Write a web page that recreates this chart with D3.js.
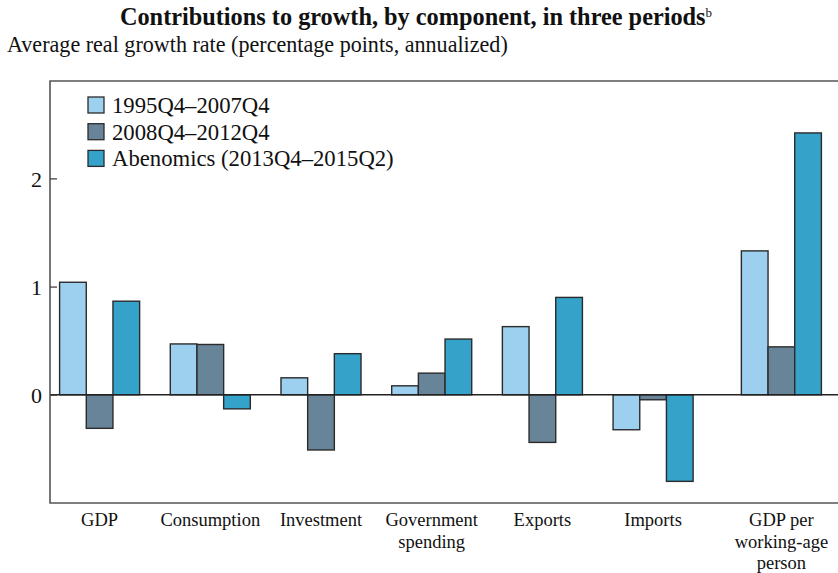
<!DOCTYPE html>
<html>
<head>
<meta charset="utf-8">
<script src="https://cdn.jsdelivr.net/npm/d3@7"></script>
<style>
  body { margin: 0; background: #fff; }
  text { font-family: "Liberation Serif", "DejaVu Serif", serif; fill: #111; }
</style>
</head>
<body>
<div id="chart"></div>
<script>
const categories = ["GDP", "Consumption", "Investment", "Government spending", "Exports", "Imports", "GDP per working-age person"];
const labelLines = [["GDP"], ["Consumption"], ["Investment"], ["Government", "spending"], ["Exports"], ["Imports"], ["GDP per", "working-age", "person"]];
const seriesNames = ["1995Q4\u20132007Q4", "2008Q4\u20132012Q4", "Abenomics (2013Q4\u20132015Q2)"];
const period1 = [1.04, 0.47, 0.157, 0.083, 0.63, -0.323, 1.33];
const period2 = [-0.31, 0.465, -0.51, 0.20, -0.44, -0.046, 0.443];
const period3 = [0.865, -0.13, 0.38, 0.515, 0.90, -0.80, 2.42];
const yTicks = [0, 1, 2];

const colors = ["#9dcfee", "#688499", "#35a2c9"];
const W = 838, H = 573;
const plot = { left: 50, top: 81, right: 838, bottom: 503 };
const lastGap = 17.6;

const svg = d3.select("#chart").append("svg")
    .attr("width", W)
    .attr("height", H);

const y = d3.scaleLinear()
    .domain([-1, 2.9])
    .range([plot.bottom, plot.top]);

const x0 = d3.scaleBand()
    .domain(categories)
    .range([59.6, 803.8])
    .paddingInner(0.277)
    .paddingOuter(0);

const x1 = d3.scaleBand()
    .domain(d3.range(seriesNames.length))
    .range([0, x0.bandwidth()]);

// the last group sits a little further out
const groupX = c => x0(c) + (c === categories[categories.length - 1] ? lastGap : 0);

// title
const title = svg.append("text")
    .attr("x", 416)
    .attr("y", 25)
    .attr("text-anchor", "middle")
    .style("font-size", "24.3px")
    .style("font-weight", "bold");
title.append("tspan").text("Contributions to growth, by component, in three periods");
title.append("tspan").text("b").attr("dy", -8).style("font-size", "13px").style("font-weight", "normal");

svg.append("text")
    .attr("x", 7)
    .attr("y", 52)
    .style("font-size", "22.1px")
    .text("Average real growth rate (percentage points, annualized)");

// bars
const data = categories.map((c, i) => ({ cat: c, vals: [period1[i], period2[i], period3[i]] }));

const groups = svg.append("g").selectAll("g")
    .data(data)
    .join("g")
    .attr("transform", d => `translate(${groupX(d.cat)},0)`);

groups.selectAll("rect")
    .data(d => d.vals.map((v, k) => ({ v, k })))
    .join("rect")
    .attr("x", d => x1(d.k))
    .attr("width", x1.bandwidth())
    .attr("y", d => y(Math.max(0, d.v)))
    .attr("height", d => Math.abs(y(d.v) - y(0)))
    .attr("fill", d => colors[d.k])
    .attr("stroke", "#2b2b2b")
    .attr("stroke-width", 1.4);

// zero line
svg.append("line")
    .attr("x1", plot.left).attr("x2", plot.right)
    .attr("y1", y(0)).attr("y2", y(0))
    .attr("stroke", "#222")
    .attr("stroke-width", 1.5);

// frame
svg.append("path")
    .attr("d", `M${plot.right},${plot.top}H${plot.left}V${plot.bottom}H${plot.right}`)
    .attr("fill", "none")
    .attr("stroke", "#555")
    .attr("stroke-width", 1.6);

// y axis
const yAxis = svg.append("g")
    .attr("transform", `translate(${plot.left},0)`)
    .call(d3.axisRight(y).tickValues(yTicks).tickSize(7).tickFormat(d3.format("d")));
yAxis.select(".domain").remove();
yAxis.selectAll(".tick line").attr("stroke", "#444").attr("stroke-width", 1.3);
yAxis.selectAll(".tick text")
    .attr("x", -8)
    .attr("text-anchor", "end")
    .attr("dy", "0.35em")
    .attr("fill", "#111")
    .style("font-size", "22px")
    .style("font-family", "Liberation Serif, serif");

// category labels
svg.append("g").selectAll("text")
    .data(categories)
    .join("text")
    .attr("x", c => groupX(c) + x0.bandwidth() / 2)
    .attr("y", 526)
    .attr("text-anchor", "middle")
    .style("font-size", "18.5px")
    .each(function(c, i) {
        d3.select(this).selectAll("tspan")
            .data(labelLines[i])
            .join("tspan")
            .attr("x", groupX(c) + x0.bandwidth() / 2)
            .attr("dy", (d, j) => j === 0 ? 0 : 21.5)
            .text(d => d);
    });

// legend
const legend = svg.append("g").attr("transform", "translate(88,97)");
const items = legend.selectAll("g")
    .data(seriesNames)
    .join("g")
    .attr("transform", (d, i) => `translate(0,${i * 26.7})`);
items.append("rect")
    .attr("width", 16).attr("height", 16)
    .attr("fill", (d, i) => colors[i])
    .attr("stroke", "#2b2b2b")
    .attr("stroke-width", 1.3);
items.append("text")
    .attr("x", 24)
    .attr("y", 8)
    .attr("dy", "0.35em")
    .style("font-size", "22.7px")
    .text(d => d);
</script>
</body>
</html>
